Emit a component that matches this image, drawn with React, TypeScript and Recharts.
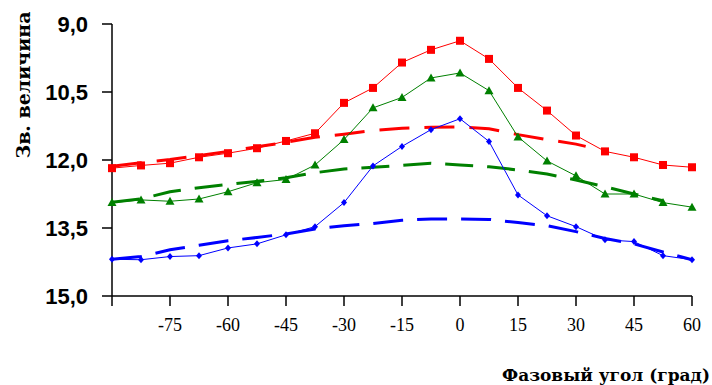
import { LineChart, Line, XAxis, YAxis, Label } from 'recharts';

// phase angle, degrees
const phaseAngles = [-90, -82.5, -75, -67.5, -60, -52.5, -45, -37.5, -30, -22.5, -15, -7.5, 0, 7.5, 15, 22.5, 30, 37.5, 45, 52.5, 60];

// observed magnitudes
const redMag = [12.18, 12.12, 12.07, 11.94, 11.85, 11.74, 11.58, 11.41, 10.74, 10.41, 9.85, 9.57, 9.37, 9.77, 10.41, 10.91, 11.46, 11.81, 11.94, 12.11, 12.16];
const greenMag = [12.94, 12.88, 12.91, 12.86, 12.7, 12.5, 12.43, 12.11, 11.55, 10.85, 10.62, 10.19, 10.08, 10.47, 11.49, 12.02, 12.35, 12.75, 12.75, 12.94, 13.04];
const blueMag = [14.19, 14.2, 14.13, 14.11, 13.94, 13.85, 13.65, 13.47, 12.94, 12.13, 11.7, 11.33, 11.09, 11.59, 12.77, 13.23, 13.47, 13.76, 13.8, 14.11, 14.2];

// model curves (dashed)
const redFitAngles = [-90, -82.5, -75, -67.5, -60, -52.5, -45, -37.5, -30, -22.5, -15, -7.5, 0, 7.5, 15, 22.5, 30, 32.5];
const redFit = [12.14, 12.06, 11.99, 11.9, 11.81, 11.71, 11.61, 11.5, 11.43, 11.35, 11.3, 11.28, 11.27, 11.31, 11.44, 11.55, 11.65, 11.7];
const greenFitAngles = [-90, -82.5, -75, -67.5, -60, -52.5, -45, -37.5, -30, -22.5, -15, -7.5, 0, 7.5, 15, 22.5, 30, 37.5, 45, 52.5];
const greenFit = [12.93, 12.86, 12.7, 12.61, 12.54, 12.47, 12.39, 12.28, 12.2, 12.16, 12.12, 12.07, 12.11, 12.15, 12.22, 12.31, 12.44, 12.59, 12.75, 12.9];
const blueFit = [14.19, 14.13, 13.98, 13.88, 13.78, 13.71, 13.63, 13.52, 13.45, 13.4, 13.33, 13.3, 13.3, 13.31, 13.38, 13.45, 13.58, 13.73, 13.85, 14.03, 14.2];

const xTicks = [-90, -75, -60, -45, -30, -15, 0, 15, 30, 45, 60];
const yTicks = [9, 10.5, 12, 13.5, 15];

const RED = '#ff0000';
const GREEN = '#008000';
const BLUE = '#0000ff';

const toRows = (xs: number[], ys: number[]) => xs.map((x, i) => ({ x, y: ys[i] }));

const SquareDot = (p: any) => (
  <rect key={`sq-${p.index}`} x={p.cx - 4} y={p.cy - 4} width={8} height={8} fill={RED} />
);
const TriangleDot = (p: any) => (
  <polygon
    key={`tr-${p.index}`}
    points={`${p.cx},${p.cy - 4.5} ${p.cx + 4.5},${p.cy + 3.5} ${p.cx - 4.5},${p.cy + 3.5}`}
    fill={GREEN}
  />
);
const DiamondDot = (p: any) => (
  <polygon
    key={`dm-${p.index}`}
    points={`${p.cx},${p.cy - 3.5} ${p.cx + 3},${p.cy} ${p.cx},${p.cy + 3.5} ${p.cx - 3},${p.cy}`}
    fill={BLUE}
  />
);

export default function App() {
  return (
    <div>
      <style>{'body{margin:0;background:#fff}'}</style>
      <LineChart width={712} height={385} margin={{ top: 24, right: 20, bottom: 0, left: 0 }}>
        <XAxis
          type="number"
          dataKey="x"
          domain={[-90, 60]}
          ticks={xTicks}
          tickFormatter={(v: number) => (v === -90 ? '' : String(v))}
          allowDuplicatedCategory={false}
          height={89}
          tickSize={10}
          tickMargin={12}
          stroke="#000"
          strokeWidth={1.5}
          tick={{ fill: '#000', fontSize: 18, fontFamily: '"Liberation Serif", serif' }}
        >
          <Label
            content={(p: any) => (
              <text
                x={p.viewBox.x + p.viewBox.width + 18}
                y={p.viewBox.y + 85}
                textAnchor="end"
                fontFamily='"DejaVu Serif", serif'
                fontWeight="bold"
                fontSize={17}
                fill="#000"
              >
                Фазовый угол (град)
              </text>
            )}
          />
        </XAxis>
        <YAxis
          type="number"
          domain={[9, 15]}
          reversed
          ticks={yTicks}
          tickFormatter={(v: number) => v.toFixed(1).replace('.', ',')}
          width={112}
          tickSize={10}
          tickMargin={14}
          stroke="#000"
          strokeWidth={1.5}
          tick={{ fill: '#000', fontSize: 22, fontWeight: 'bold', fontFamily: '"Liberation Sans", sans-serif' }}
        >
          <Label
            content={(p: any) => (
              <text
                x={23}
                y={p.viewBox.y + 61}
                transform={`rotate(-90, 23, ${p.viewBox.y + 61})`}
                textAnchor="middle"
                dominantBaseline="central"
                fontFamily='"DejaVu Serif", serif'
                fontWeight="bold"
                fontSize={19}
                fill="#000"
              >
                Зв. величина
              </text>
            )}
          />
        </YAxis>

        <Line data={toRows(redFitAngles, redFit)} dataKey="y" stroke={RED} strokeWidth={3} strokeDasharray="30 15" dot={false} isAnimationActive={false} />
        <Line data={toRows(greenFitAngles, greenFit)} dataKey="y" stroke={GREEN} strokeWidth={3} strokeDasharray="28 14" dot={false} isAnimationActive={false} />
        <Line data={toRows(phaseAngles, blueFit)} dataKey="y" stroke={BLUE} strokeWidth={3} strokeDasharray="30 14" dot={false} isAnimationActive={false} />

        <Line data={toRows(phaseAngles, redMag)} dataKey="y" stroke={RED} strokeWidth={1} dot={SquareDot} isAnimationActive={false} />
        <Line data={toRows(phaseAngles, greenMag)} dataKey="y" stroke={GREEN} strokeWidth={1} dot={TriangleDot} isAnimationActive={false} />
        <Line data={toRows(phaseAngles, blueMag)} dataKey="y" stroke={BLUE} strokeWidth={1} dot={DiamondDot} isAnimationActive={false} />
      </LineChart>
    </div>
  );
}
